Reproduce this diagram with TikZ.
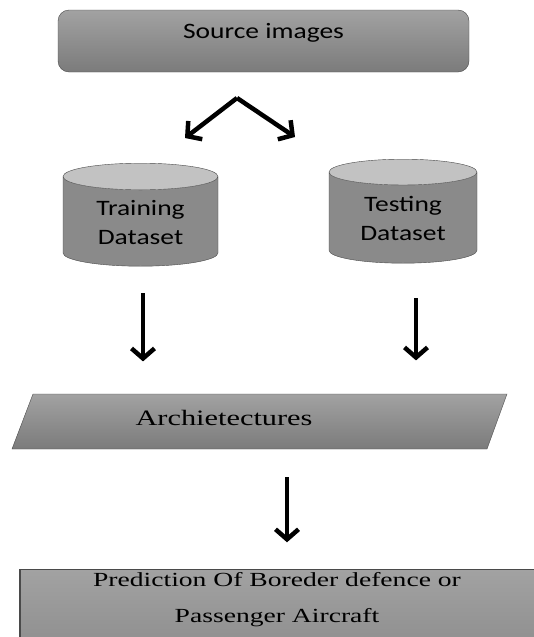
\documentclass[tikz,border=0pt]{standalone}
\usepackage{fontspec}
\usepackage{tikz}
\usetikzlibrary{positioning, shapes.geometric, arrows.meta}
\newfontfamily\boxsans[FakeStretch=1.25]{Carlito}
\newfontfamily\boxserif[FakeStretch=1.38]{Liberation Serif}
\definecolor{boxtop}{HTML}{A2A2A2}
\definecolor{boxbot}{HTML}{7B7B7B}
\definecolor{cylbody}{HTML}{8A8A8A}
\definecolor{cylend}{HTML}{C2C2C2}
\definecolor{rim}{HTML}{4A4A4A}

\begin{document}
\begin{tikzpicture}[
    x=1pt, y=-1pt,
    srcbox/.style={rectangle, rounded corners=11pt, draw=rim, top color=boxtop, bottom color=boxbot,
        minimum width=411pt, minimum height=62pt, font=\fontsize{22}{30}\boxsans},
    storetext/.style={align=center, font=\fontsize{22}{29}\boxsans},
    store/.style={cylinder, shape border rotate=90, aspect=0.28, draw=rim, anchor=north, storetext,
        cylinder uses custom fill, cylinder body fill=cylbody, cylinder end fill=cylend},
    archbox/.style={draw=rim, top color=boxtop, bottom color=boxbot},
    predbox/.style={rectangle, draw=rim, top color=boxtop, bottom color=boxbot!90,
        minimum width=514pt, minimum height=80pt, align=center, font=\fontsize{20}{36}\boxserif},
    arr/.style={-{Straight Barb[length=10pt, width=23pt]}, line width=4.5pt, black}
]
    \useasboundingbox (0,0) rectangle (534,637);

    % Boxes and stores
    \node[srcbox, text height=16pt, text depth=22pt] (src) at (263.5,41) {Source images};
    \node[store, minimum width=155pt, minimum height=103pt,
        label={[storetext, yshift=0.5pt]center:Training\\Dataset}] (train) at (140.5,163)
        {\phantom{Training}\\\phantom{Dataset}};
    \node[store, minimum width=148pt, minimum height=104pt,
        label={[storetext, yshift=1pt]center:Testing\\Dataset}] (test) at (403,159)
        {\phantom{Testing}\\\phantom{Dataset}};
    \path[archbox] (33,394) -- (507,394) -- (487,449) -- (12,449) -- cycle;
    \node[font=\fontsize{22}{26}\boxserif] (arch) at (224,418) {Archietectures};
    \node[predbox, anchor=north, text depth=48pt] (pred) at (277,569) {Prediction Of Boreder defence or\\Passenger Aircraft};
    \draw[rim, line width=2.5pt] (pred.north west) -- (pred.south west);

    % Fork below source
    \coordinate (fork) at (237,98);
    \coordinate (forkl) at (185,138);
    \coordinate (forkr) at (295,137);
    \draw[arr] (fork) -- (forkl);
    \draw[arr] (fork) -- (forkr);

    % Down arrows
    \draw[arr] ([xshift=2.5pt, yshift=-27pt]train.south) -- ([xshift=2.5pt, yshift=-95pt]train.south);
    \draw[arr] ([xshift=13pt, yshift=-35pt]test.south) -- ([xshift=13pt, yshift=-97pt]test.south);
    \draw[arr] ([xshift=63pt, yshift=-48pt]arch.south) -- ([xshift=63pt, yshift=-113pt]arch.south);
\end{tikzpicture}
\end{document}
